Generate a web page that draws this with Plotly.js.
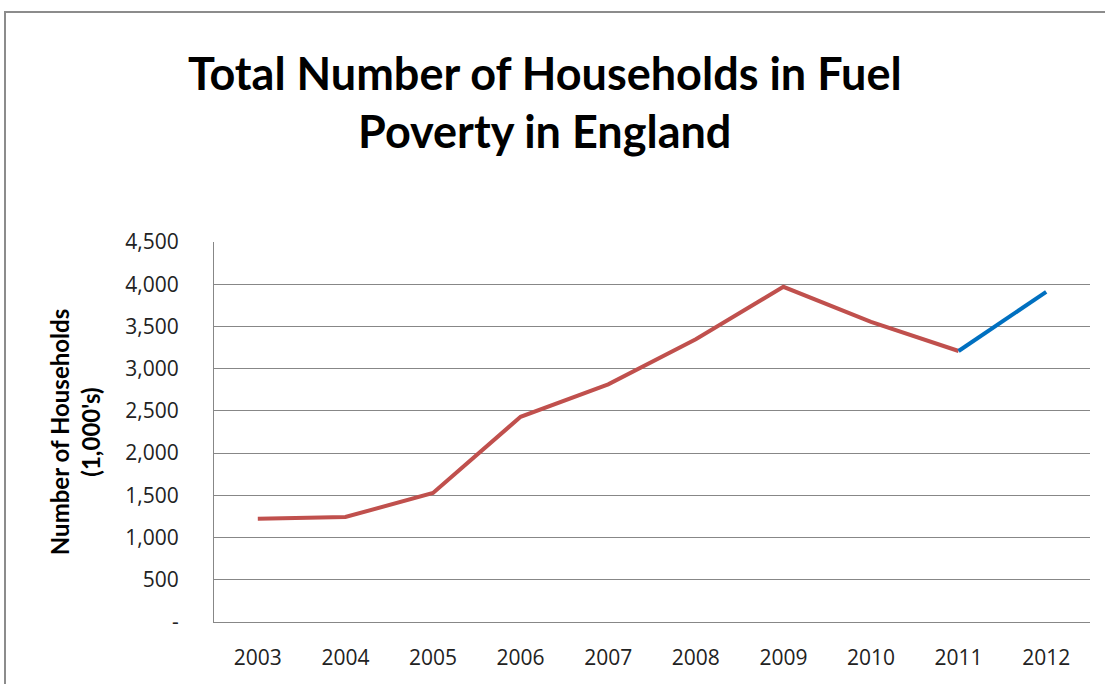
<!DOCTYPE html>
<html>
<head>
<meta charset="utf-8">
<script src="https://cdn.plot.ly/plotly-3.0.1.min.js"></script>
<style>
  html, body { margin: 0; padding: 0; background: #fff; overflow: hidden; }
  #frame { position: absolute; left: 4px; top: 11px; width: 1200px; height: 800px; border: 2px solid #8c8c8c; }
  #chart { position: absolute; left: 0; top: 0; width: 1105px; height: 684px; }
</style>
</head>
<body>
<div id="frame"></div>
<div id="chart"></div>
<script>
// Data (thousands of households)
const years = ['2003', '2004', '2005', '2006', '2007', '2008', '2009', '2010', '2011', '2012'];
const households = [1223, 1243, 1528, 2430, 2814, 3348, 3969, 3554, 3209, 3910];
// index where the blue (latest) segment starts
const splitIndex = 8;
const yTickVals = [0, 500, 1000, 1500, 2000, 2500, 3000, 3500, 4000, 4500];
const yTickText = ['-', '500', '1,000', '1,500', '2,000', '2,500', '3,000', '3,500', '4,000', '4,500'];

const traces = [
  {
    x: years.slice(0, splitIndex + 1),
    y: households.slice(0, splitIndex + 1),
    type: 'scatter', mode: 'lines',
    line: { color: '#C0504D', width: 4 },
    hoverinfo: 'x+y', showlegend: false
  },
  {
    x: years.slice(splitIndex),
    y: households.slice(splitIndex),
    type: 'scatter', mode: 'lines',
    line: { color: '#0070C0', width: 4 },
    hoverinfo: 'x+y', showlegend: false
  }
];

const layout = {
  width: 1105, height: 684,
  paper_bgcolor: 'rgba(0,0,0,0)',
  plot_bgcolor: '#ffffff',
  margin: { l: 214, r: 15, t: 242, b: 62 },
  title: {
    text: '<b>Total Number of Households in Fuel<br>Poverty in England</b>',
    font: { family: 'Lato, "Open Sans", sans-serif', size: 45, color: '#000' },
    x: 0.493, xref: 'container', xanchor: 'center',
    y: 0.869, yref: 'container', yanchor: 'top'
  },
  xaxis: {
    type: 'category',
    categoryorder: 'array', categoryarray: years,
    range: [-0.5, 9.5],
    showgrid: false, zeroline: false,
    showline: true, linecolor: '#878787', linewidth: 1,
    ticks: '', ticklabelstandoff: 17,
    tickfont: { family: '"Open Sans", sans-serif', size: 21, color: '#222' }
  },
  yaxis: {
    range: [0, 4500],
    tickvals: yTickVals, ticktext: yTickText,
    showgrid: true, gridcolor: '#878787', gridwidth: 1,
    zeroline: false,
    showline: true, linecolor: '#878787', linewidth: 1,
    ticks: '', ticklabelstandoff: 30,
    tickfont: { family: '"Open Sans", sans-serif', size: 21, color: '#222' },
    title: {
      text: '<b>Number of Households<br>(1,000\'s)</b>',
      font: { family: 'Lato, "Open Sans", sans-serif', size: 24, color: '#000' },
      standoff: 17
    }
  }
};

Plotly.newPlot('chart', traces, layout, { staticPlot: true, displayModeBar: false });
</script>
</body>
</html>
